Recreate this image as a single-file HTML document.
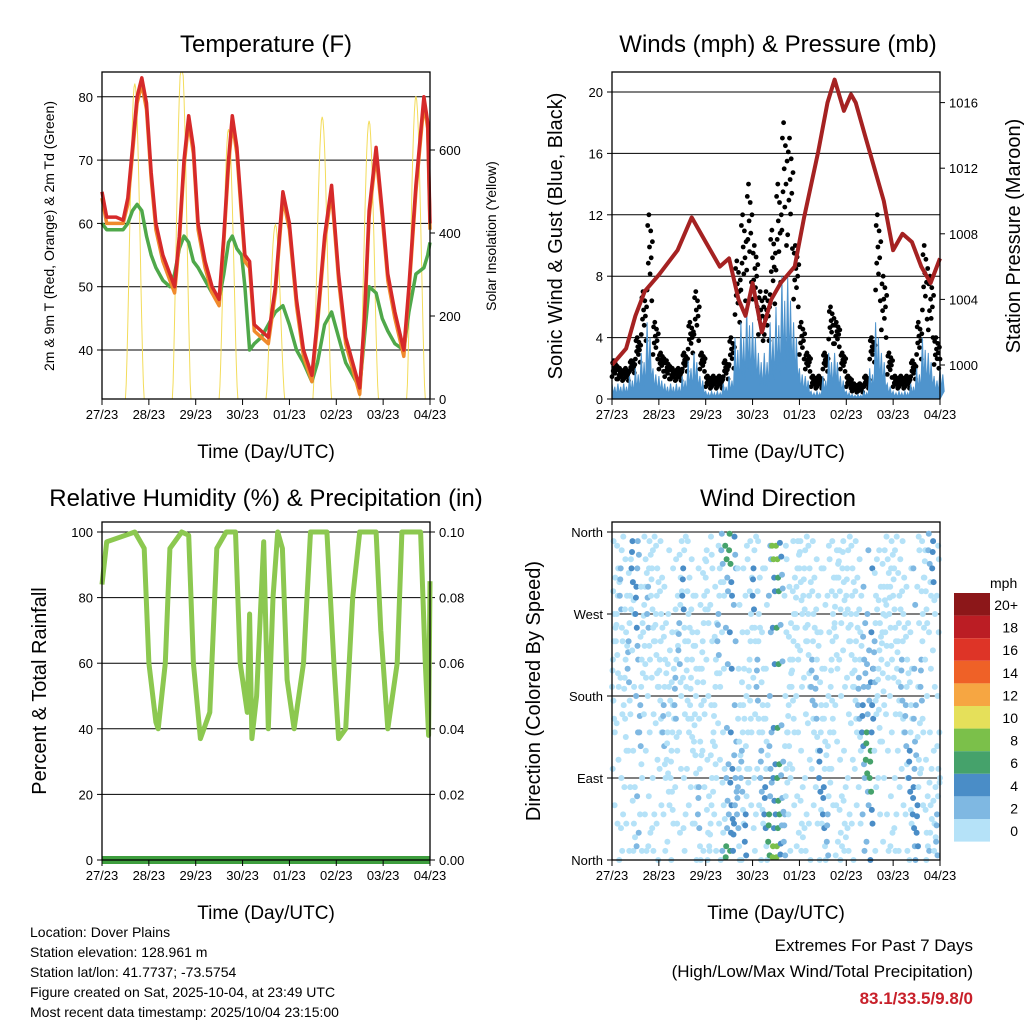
<!DOCTYPE html>
<html><head><meta charset="utf-8">
<style>
body{margin:0;background:#fff;}
svg{display:block;font-family:"Liberation Sans",Arial,sans-serif;}
</style></head>
<body>
<svg id="chart" width="1024" height="1024" viewBox="0 0 1024 1024" xmlns="http://www.w3.org/2000/svg">
<rect width="1024" height="1024" fill="#fff"/>
</svg>
<script>
// ---------- DATA ----------
const dayLabels = ["27/23","28/23","29/23","30/23","01/23","02/23","03/23","04/23"];
const tTime  = [0,0.1,0.3,0.45,0.55,0.65,0.75,0.85,0.95,1.05,1.15,1.3,1.45,1.55,1.65,1.75,1.85,1.95,2.05,2.2,2.35,2.5,2.6,2.7,2.78,2.88,2.98,3.05,3.15,3.25,3.4,3.55,3.7,3.86,4.0,4.15,4.3,4.48,4.6,4.75,4.9,5.05,5.2,5.35,5.5,5.6,5.7,5.85,5.98,6.1,6.25,6.44,6.55,6.7,6.87,6.95,7.0];
const tRed   = [65,61,61,60.5,64,72,80,83,79,68,60,55,52,50,58,70,77,72,60,54,50,48,58,70,77,72,62,55,54,44,43,42,50,65,60,48,40,36,45,58,66,52,42,38,34,45,62,72,62,52,46,40,50,66,80,76,60];
const tOrg   = [64,60,60,60,63,71,79,82,78,67,59,54,51,49,57,69,76,71,59,53,49,47,57,69,76,71,61,54,53,43,42,41,49,64,59,47,39,35,44,57,65,51,41,37,33,44,61,71,61,51,45,39,49,65,79,75,59];
const tGrn   = [60,59,59,59,60,62,63,62,58,55,53,51,50,52,56,58,57,54,53,51,49,48,52,57,58,56,55,50,40,41,42,44,46,47,44,40,38,35,38,44,46,42,38,36,34,42,50,49,45,43,41,40,46,52,53,55,57];
const solarPeak = [760,820,650,420,680,670,730];
const windAvg = [1,1,1,1.5,2,3,5,2, 1.5,1,1,1,1.5,2.5,3,1.5, 0.5,0.5,0.5,1,1.5,4,5,6, 5,3,3,5,6,8,8,5, 2,1.5,0.5,0.5,1.5,3,3,1.5, 0.5,0.3,0.3,0.5,2,5,3,1, 0.5,0.5,0.5,1,2,4,3,1.5, 2];
const windGust= [2.5,2,2,2.5,4,7,12,5, 3,2.5,2,2,3,5,7,3, 1.5,1.5,1.5,2.5,4,9,12,14, 10,7,7,11,14,18,17,10, 5,3,1.5,1.5,3,6,5,3, 1.5,1,1,1.5,4,12,8,3, 1.5,1.5,1.5,2.5,5,10,8,4, 4];
const pTime = [0,0.15,0.3,0.5,0.7,1.0,1.4,1.7,2.0,2.3,2.5,2.7,2.85,3.0,3.2,3.4,3.6,3.9,4.1,4.4,4.6,4.75,4.95,5.1,5.2,5.4,5.6,5.8,6.0,6.2,6.4,6.6,6.8,7.0];
const pVal  = [1000,1000.5,1001,1003,1004.5,1005.5,1007,1009,1007.5,1006,1006.5,1004,1003,1005,1002,1004,1005,1006,1009,1013,1016,1017.4,1015.5,1016.5,1016,1014,1012,1010,1007,1008,1007.5,1006,1005,1006.5];
const rhTime = [0,0.1,0.5,0.7,0.9,1.0,1.15,1.2,1.35,1.45,1.7,1.85,1.95,2.1,2.3,2.45,2.65,2.85,2.95,3.1,3.15,3.2,3.3,3.45,3.55,3.65,3.75,3.85,3.95,4.1,4.3,4.45,4.8,4.95,5.05,5.2,5.35,5.5,5.85,5.95,6.1,6.3,6.4,6.8,6.9,6.97,7.0];
const rhVal  = [84,97,99,100,95,60,42,40,60,95,100,99,60,37,45,95,100,100,60,45,75,37,50,97,40,80,100,95,55,40,60,100,100,60,37,40,80,100,100,70,40,60,100,100,60,38,85];
const precip = [0,0,0,0,0,0,0,0];
const wdDir = [200,250,300,180,220,330,280,150,260,280,300,250, 200,150,120,100,180,240,300,200,180,140,60,220, 320,20,150,250,350,355,350,20,60,100,30,200, 300,200,100,60,30,355,355,358,30,150,200,280, 330,300,250,200,180,100,60,30,200,270,320,330, 300,250,200,180,150,120,100,220,190,230,260,280, 300,220,200,150,100,60,40,200,320,350,330,30,100];
const wdSpd = [1,1,2,1,3,4,5,2,1,2,1,1, 1,2,1,1,2,3,4,1,1,1,2,1, 1,1,1,2,3,6,7,5,3,2,4,1, 4,3,2,4,6,8,9,5,2,1,1,1, 1,1,1,2,2,4,4,3,1,1,1,1, 1,1,1,2,5,6,7,3,1,1,1,1, 1,1,2,2,4,5,4,2,1,2,4,2,1];
const legendLabels = ["20+","18","16","14","12","10","8","6","4","2","0"];
const legendColors = ["#8C1719","#BB1D24","#DE3427","#EF6127","#F6A642","#E5E05A","#7BC04A","#45A26B","#4A8DC7","#7FB8E2","#B5E2F8"];

// ---------- DRAWING ----------
const svg = document.getElementById('chart');
const NS = 'http://www.w3.org/2000/svg';
function mk(tag, attrs, parent){const e=document.createElementNS(NS,tag);for(const k in attrs)e.setAttribute(k,attrs[k]);(parent||svg).appendChild(e);return e;}
function txt(s,x,y,size,anchor,parent,extra){const e=mk('text',Object.assign({x:x,y:y,'font-size':size,'text-anchor':anchor||'middle',fill:'#000'},extra||{}),parent);e.textContent=s;return e;}

function panel(name,x0,y0,x1,y1){
  const g=mk('g',{});
  
  
  return {g:g,x0:x0,y0:y0,x1:x1,y1:y1,xs:d=>x0+(x1-x0)*d/7};
}
function frame(P){
  const r=mk('rect',{x:P.x0,y:P.y0,width:P.x1-P.x0,height:P.y1-P.y0,fill:'none',stroke:'#000','stroke-width':1.3},P.g);
  
  
  const xg=mk('g',{},P.g);
  
  
  dayLabels.forEach((l,i)=>{const x=P.xs(i);mk('line',{x1:x,x2:x,y1:P.y1,y2:P.y1+6,stroke:'#000','stroke-width':1},xg);
    const t=txt(l,x,P.y1+20,13,'middle',xg);
    
    });
  const xt=txt('Time (Day/UTC)',(P.x0+P.x1)/2,P.y1+59,19,'middle',P.g);
  
  
}
function hgrid(P,y){mk('line',{x1:P.x0,x2:P.x1,y1:y,y2:y,stroke:'#000','stroke-width':1},P.g);}
function leftTick(P,y,label,size){mk('line',{x1:P.x0-5,x2:P.x0,y1:y,y2:y,stroke:'#000'},P.g);const t=txt(label,P.x0-9,y+5,size||13,'end',P.g);}
function rightTick(P,y,label,size){mk('line',{x1:P.x1,x2:P.x1+5,y1:y,y2:y,stroke:'#000'},P.g);const t=txt(label,P.x1+9,y+5,size||13,'start',P.g);}
function vtitle(s,x,y,size,name){const t=txt(s,x,y,size,'middle',svg,{transform:`rotate(-90 ${x} ${y})`});}
function title(s,x,y,name){const t=txt(s,x,y,24,'middle');}
function poly(P,ts,vs,ymap,color,w,name){
  const pts=ts.map((t,i)=>P.xs(t).toFixed(1)+','+ymap(vs[i]).toFixed(1)).join(' ');
  const e=mk('polyline',{points:pts,fill:'none',stroke:color,'stroke-width':w,'stroke-linejoin':'round'},P.g);
  
  
  return e;
}

// ===== Panel 1: Temperature =====
const P1=panel('temperature-panel',102,72,430,399);
const yT=v=>350-(v-40)*6.33;
const yS=v=>399-v*83/200;
title('Temperature (F)',266,52,'temperature-title');
[40,50,60,70,80].forEach(v=>{hgrid(P1,yT(v));leftTick(P1,yT(v),String(v));});
[0,200,400,600].forEach(v=>rightTick(P1,yS(v),String(v)));
solarPeak.forEach((pk,d)=>{
  const pts=[];for(let k=0;k<=24;k++){const f=k/24;const t=d+0.5+f*0.4;pts.push(P1.xs(t).toFixed(1)+','+Math.max(P1.y0,yS(pk*Math.pow(Math.sin(Math.PI*f),1.5))).toFixed(1));}
  const e=mk('polyline',{points:pts.join(' '),fill:'none',stroke:'#F3DC5A','stroke-width':1},P1.g);
  
  
});
poly(P1,tTime,tGrn,yT,'#4FA84A',3.5,'dewpoint-line');
poly(P1,tTime,tOrg,yT,'#F08A2C',3.5,'temp-9m-line');
poly(P1,tTime,tRed,yT,'#D62A2A',3.5,'temp-2m-line');
frame(P1);
vtitle('2m & 9m T (Red, Orange) & 2m Td (Green)',54,236,14,'temperature-y-title');
vtitle('Solar Insolation (Yellow)',496,236,14,'solar-y-title');

// ===== Panel 2: Winds & Pressure =====
const P2=panel('winds-panel',612,72,940,399);
const yW=v=>399-v*15.35;
const yP=v=>365-(v-1000)*16.4;
title('Winds (mph) & Pressure (mb)',778,52,'winds-title');
[0,4,8,12,16,20].forEach(v=>{if(v>0)hgrid(P2,yW(v));leftTick(P2,yW(v),String(v));});
[1000,1004,1008,1012,1016].forEach(v=>rightTick(P2,yP(v),String(v)));
{
  const fr=[0.3,0.9,0.55,1,0.7,0.45,0.85,0.6,0.2,0.75];
  const gg=mk('g',{},P2.g);
  
  
  windGust.forEach((g,i)=>{const w=windAvg[i];fr.forEach((f,k)=>{const t=i*0.125+k*0.0125;if(t>7)return;
    mk('circle',{cx:P2.xs(t).toFixed(1),cy:yW(w+(g-w)*f).toFixed(1),r:2.4,fill:'#000'},gg);});});
}
{
  const pts=[P2.xs(0)+','+yW(0)];
  windAvg.forEach((w,i)=>{const t=i*0.125;pts.push(P2.xs(t).toFixed(1)+','+yW(w).toFixed(1));pts.push(P2.xs(t+0.03).toFixed(1)+','+yW(w*0.3).toFixed(1));pts.push(P2.xs(t+0.06).toFixed(1)+','+yW(w*0.8).toFixed(1));pts.push(P2.xs(t+0.09).toFixed(1)+','+yW(w*0.25).toFixed(1));});
  pts.push(P2.xs(7)+','+yW(0));
  const e=mk('polygon',{points:pts.join(' '),fill:'#4F94CD',stroke:'#4F94CD','stroke-width':1},P2.g);
  
  
}
poly(P2,pTime,pVal,yP,'#A52222',4,'pressure-line');
frame(P2);
vtitle('Sonic Wind & Gust (Blue, Black)',562,236,20,'wind-y-title');
vtitle('Station Pressure (Maroon)',1020,236,20,'pressure-y-title');

// ===== Panel 3: RH & Precip =====
const P3=panel('humidity-panel',102,522,430,860);
const yR=v=>860-v*3.28;
title('Relative Humidity (%) & Precipitation (in)',266,506,'humidity-title');
[0,20,40,60,80,100].forEach(v=>{if(v>0&&v<100)hgrid(P3,yR(v));leftTick(P3,yR(v),String(v));rightTick(P3,yR(v),(v/1000).toFixed(2));});
hgrid(P3,yR(100));
{
  const ts=precip.map((p,i)=>i);
  poly(P3,ts,precip.map(p=>p*1000),yR,'#3E9E3E',8,'precipitation-line');
}
poly(P3,rhTime,rhVal,yR,'#8CC850',5,'relative-humidity-line');
frame(P3);
vtitle('Percent & Total Rainfall',46,691,20,'humidity-y-title');

// ===== Panel 4: Wind Direction =====
const P4=panel('wind-direction-panel',612,522,940,860);
const yD=v=>860-v*(328/360);
title('Wind Direction',778,506,'wind-direction-title');
[['North',0],['East',90],['South',180],['West',270],['North',360]].forEach(([l,v])=>{if(v>0&&v<360)hgrid(P4,yD(v));leftTick(P4,yD(v),l);});
hgrid(P4,yD(360));
function spdColor(s){const idx=Math.min(10,Math.max(0,10-Math.floor(s/2)));return legendColors[idx];}
{
  const gg=mk('g',{},P4.g);
  
  
  const offs=[[-10,0],[8,0.01],[20,0.02],[-25,0.03],[40,0.04],[70,0.05],[-60,0.06],[110,0.07],[-100,0.015],[150,0.035],[-140,0.055],[55,0.075],[-45,0.045],[95,0.025]];
  wdDir.forEach((d,i)=>{offs.forEach(([dd,dt],k)=>{let v=d+dd;v=((v%360)+360)%360;const t=i/12+dt;if(t>7)return;
    const s=k<4?wdSpd[i]:Math.max(0,wdSpd[i]-3);
    mk('circle',{cx:P4.xs(t).toFixed(1),cy:yD(v).toFixed(1),r:3,fill:spdColor(s)},gg);});});
}
frame(P4);
vtitle('Direction (Colored By Speed)',540,691,20,'wind-direction-y-title');
{
  const lg=mk('g',{});
  
  
  txt('mph',990,588,14,'start',lg);
  legendColors.forEach((c,i)=>{const y=593+i*22.6;mk('rect',{x:954,y:y,width:36,height:22.6,fill:c},lg);
    const t=txt(legendLabels[i],1018,y+17,14,'end',lg);});
}

// ===== Footer =====
{
  const f=mk('g',{});
  
  
  ["Location: Dover Plains","Station elevation: 128.961 m","Station lat/lon: 41.7737; -73.5754","Figure created on Sat, 2025-10-04, at 23:49 UTC","Most recent data timestamp: 2025/10/04 23:15:00"].forEach((s,i)=>txt(s,30,937+i*20,14,'start',f));
  const e=mk('g',{});
  
  
  txt('Extremes For Past 7 Days',973,951,17,'end',e);
  txt('(High/Low/Max Wind/Total Precipitation)',973,977,17,'end',e);
  txt('83.1/33.5/9.8/0',973,1004,17,'end',e,{fill:'#C8202A','font-weight':'bold'});
}
</script>
</body></html>
